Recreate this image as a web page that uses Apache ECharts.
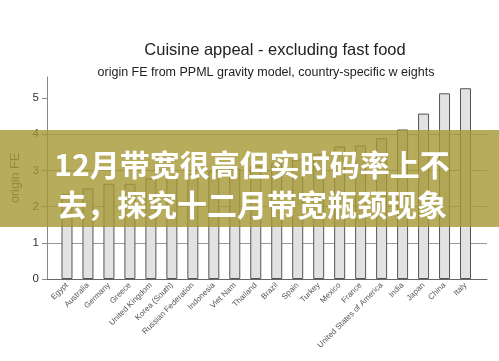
<!DOCTYPE html>
<html>
<head>
<meta charset="utf-8">
<script src="https://cdn.jsdelivr.net/npm/echarts@6/dist/echarts.min.js"></script>
<style>html,body{margin:0;padding:0;background:#fff}#c{width:499px;height:361px}</style>
</head>
<body>
<div id="c"></div>
<script>
const categories = ["Egypt","Australia","Germany","Greece","United Kingdom","Korea (South)","Russian Federation","Indonesia","Viet Nam","Thailand","Brazil","Spain","Turkey","Mexico","France","United States of America","India","Japan","China","Italy"];
const originFE = [2.35,2.5,2.63,2.63,2.78,2.83,2.9,2.97,3.05,3.12,3.2,3.3,3.45,3.66,3.69,3.89,4.13,4.57,5.13,5.27];
const yTicks = [0,1,2,3,4,5];
const titleText = "Cuisine appeal - excluding fast food";
const subtitleText = "origin FE from PPML gravity model, country-specific w eights";
const bannerLines = ["12月带宽很高但实时码率上不", "去，探究十二月带宽瓶颈现象"];

const chart = echarts.init(document.getElementById('c'), null, {renderer:'canvas'});
const font = '"Liberation Sans", Arial, sans-serif';
chart.setOption({
  animation:false,
  backgroundColor:'#fff',
  title:[
    {text:titleText,left:270,top:37,textAlign:'center',textStyle:{fontFamily:font,fontSize:16.5,fontWeight:'normal',color:'#222'}},
    {text:subtitleText,left:261,top:61,textAlign:'center',textStyle:{fontFamily:font,fontSize:12.5,fontWeight:'normal',color:'#222'}}
  ],
  grid:[
    {left:47,right:12,top:77,bottom:82},
    {left:56.5,right:23,top:77,bottom:82}
  ],
  xAxis:[
    {type:'value',gridIndex:0,min:0,max:1,axisLine:{show:true,onZero:false,lineStyle:{color:'#666',width:1}},axisTick:{show:false},axisLabel:{show:false},splitLine:{show:false}},
    {type:'category',gridIndex:1,data:categories,axisLine:{show:false},axisTick:{show:false},
     axisLabel:{interval:0,rotate:45,fontSize:8,color:'#555',fontFamily:font,margin:5}}
  ],
  yAxis:[
    {type:'value',gridIndex:0,min:0,max:5.58,interval:1,
     name:'origin FE',nameLocation:'middle',nameGap:22,nameTextStyle:{fontFamily:font,fontSize:12.5,color:'#555'},
     axisLine:{show:true,lineStyle:{color:'#888'}},
     axisTick:{show:true,length:5,lineStyle:{color:'#888'},customValues:yTicks},
     axisLabel:{fontFamily:font,fontSize:11.5,color:'#333',margin:8,customValues:yTicks,formatter:v=>Number.isInteger(v)?String(v):''},
     splitLine:{show:true,showMaxLine:false,showMinLine:false,lineStyle:{color:'#999',width:1}}},
    {type:'value',gridIndex:1,min:0,max:5.58,interval:1,show:false,splitLine:{show:false}}
  ],
  series:[{
    type:'bar',xAxisIndex:1,yAxisIndex:1,data:originFE,barWidth:11,
    itemStyle:{color:'#e2e2e2',borderColor:'#555',borderWidth:1}
  }],
  graphic:[
    {type:'rect',z:100,shape:{x:0,y:130,width:499,height:97},style:{fill:'rgba(165,151,51,0.8)'}},
    {type:'text',z:101,x:252,y:165,style:{text:bannerLines[0],fill:'#fff',font:'bold 30px "Noto Sans CJK SC", sans-serif',textAlign:'center',textVerticalAlign:'middle'}},
    {type:'text',z:101,x:252,y:205,style:{text:bannerLines[1],fill:'#fff',font:'bold 30px "Noto Sans CJK SC", sans-serif',textAlign:'center',textVerticalAlign:'middle'}}
  ]
});
</script>
</body>
</html>
